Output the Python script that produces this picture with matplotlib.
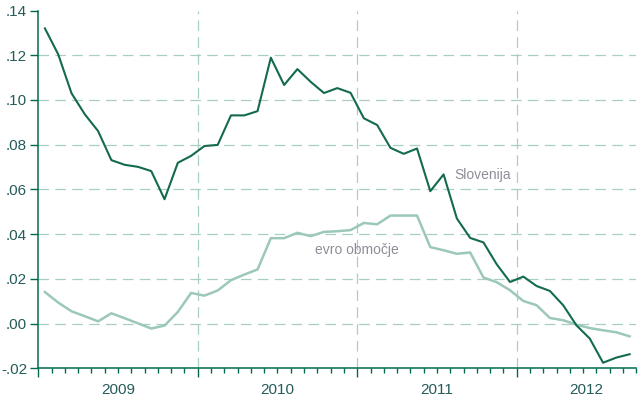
import matplotlib
matplotlib.use('Agg')
import matplotlib.pyplot as plt
import numpy as np
from matplotlib.ticker import FixedLocator, FuncFormatter

plt.rcParams['font.family'] = ['Liberation Sans', 'DejaVu Sans']

# monthly values, Jan 2009 - Sep 2012
slovenija = [0.1320, 0.1204, 0.1030, 0.0936, 0.0861, 0.0731, 0.0710, 0.0701, 0.0682, 0.0556, 0.0719, 0.0750,
             0.0794, 0.0799, 0.0931, 0.0931, 0.0950, 0.1189, 0.1067, 0.1138, 0.1081, 0.1031, 0.1053, 0.1032,
             0.0918, 0.0888, 0.0786, 0.0759, 0.0783, 0.0592, 0.0667, 0.0470, 0.0383, 0.0363, 0.0265, 0.0186,
             0.0210, 0.0168, 0.0146, 0.0082, -0.0008, -0.0067, -0.0175, -0.0152, -0.0137]
evro = [0.0141, 0.0094, 0.0055, 0.0033, 0.0010, 0.0046, 0.0024, 0.0001, -0.0022, -0.0009, 0.0052, 0.0137,
        0.0125, 0.0148, 0.0194, 0.0219, 0.0242, 0.0382, 0.0382, 0.0406, 0.0391, 0.0410, 0.0413, 0.0418,
        0.0450, 0.0444, 0.0483, 0.0483, 0.0483, 0.0342, 0.0328, 0.0312, 0.0318, 0.0206, 0.0185, 0.0149,
        0.0101, 0.0082, 0.0025, 0.0015, -0.0005, -0.0020, -0.0030, -0.0039, -0.0057]
years = ['2009', '2010', '2011', '2012']
yticks = [-0.02, 0.0, 0.02, 0.04, 0.06, 0.08, 0.10, 0.12, 0.14]

dark = '#136a50'
light = '#9cc8b9'
grid = '#a9cfc5'
axcol = '#006b4f'
txtcol = '#245c5a'
lblcol = '#8e8e98'

fig = plt.figure(figsize=(6.38, 3.98), dpi=100)
ax = fig.add_axes([0.0600, 0.0746, 0.9373, 0.8990])

x = np.arange(len(slovenija)) + 0.5
ax.set_xlim(0, 45)
ax.set_ylim(-0.02, 0.14)

# grid lines
for v in yticks[1:-1]:
    ax.axhline(v, color=grid, lw=0.9, dashes=(8.5, 5), zorder=1)
for v in [12, 24, 36]:
    ax.axvline(v, color=grid, lw=0.9, dashes=(8.5, 5), zorder=1)

ax.plot(x, evro, color=light, lw=1.8, solid_joinstyle='round', zorder=2)
ax.plot(x, slovenija, color=dark, lw=1.5, solid_joinstyle='round', zorder=3)

ax.text(31.3, 0.0663, 'Slovenija', fontsize=10, color=lblcol, va='center', ha='left')
ax.text(20.8, 0.0330, 'evro območje', fontsize=10, color=lblcol, va='center', ha='left')

for s in ['top', 'right']:
    ax.spines[s].set_visible(False)
for s in ['left', 'bottom']:
    ax.spines[s].set_color(axcol)
    ax.spines[s].set_linewidth(1.1)

ax.yaxis.set_major_locator(FixedLocator(yticks))
ax.yaxis.set_major_formatter(FuncFormatter(lambda v, p: f'{v:.2f}'.replace('0.', '.')))
ax.tick_params(axis='y', length=5.5, width=1.0, color=axcol, labelcolor=txtcol, labelsize=11, pad=2.5)

ax.xaxis.set_major_locator(FixedLocator([0, 12, 24, 36]))
ax.xaxis.set_minor_locator(FixedLocator([m for m in range(1, 46) if m % 12 != 0]))
ax.xaxis.set_major_formatter(FuncFormatter(lambda v, p: ''))
ax.tick_params(axis='x', which='major', length=6.5, width=1.0, color=axcol)
ax.tick_params(axis='x', which='minor', length=3.4, width=1.0, color=axcol)

for pos, yr in zip([6, 18, 30, 41.2], years):
    ax.text(pos, -0.042, yr, transform=ax.get_xaxis_transform(), ha='center', va='top',
            fontsize=11, color=txtcol)

fig.savefig('out.png', dpi=100)
